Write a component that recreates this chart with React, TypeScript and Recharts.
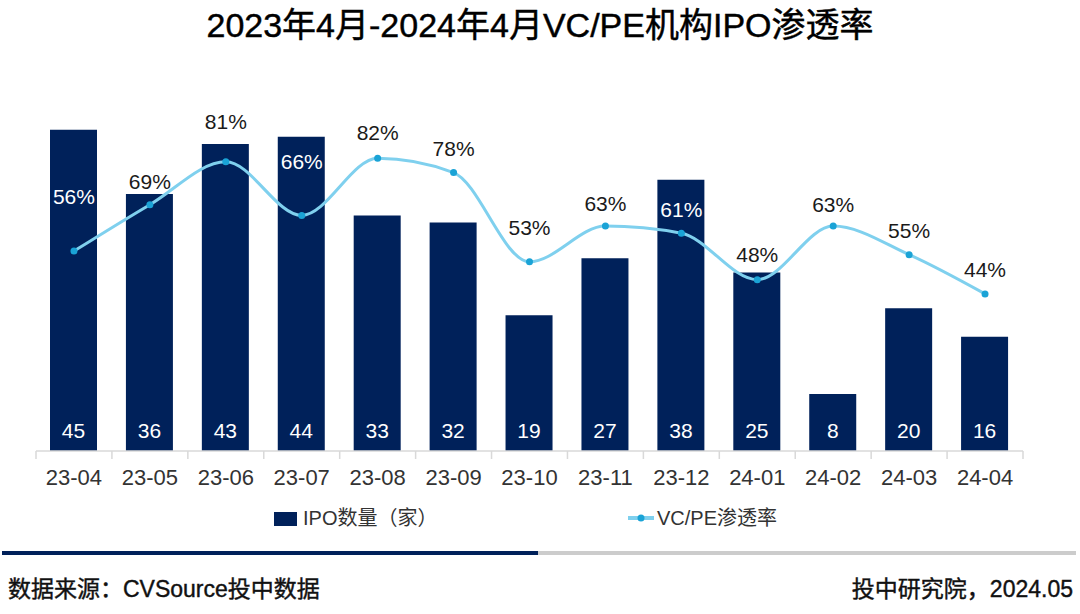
import React from 'react';
import { ComposedChart, Bar, Line, XAxis, YAxis, LabelList } from 'recharts';

const months = ['23-04', '23-05', '23-06', '23-07', '23-08', '23-09', '23-10', '23-11', '23-12', '24-01', '24-02', '24-03', '24-04'];
const ipoCounts = [45, 36, 43, 44, 33, 32, 19, 27, 38, 25, 8, 20, 16];
const vcpeRates = [56, 69, 81, 66, 82, 78, 53, 63, 61, 48, 63, 55, 44];

// how far each percentage label sits above its point (px)
const labelLift = [55, 23, 40, 54, 26, 24, 34, 23, 24, 25, 22, 24, 24];

const W = 1080;
const H = 614;
const PLOT_LEFT = 36;
const PLOT_RIGHT = 1023;
const PLOT_TOP = 94;
const PLOT_BOTTOM = 451;
const X_AXIS_H = 40;
const COUNT_MAX = 50;
const BAND = (PLOT_RIGHT - PLOT_LEFT) / months.length;

const NAVY = '#00215a';
const SKY = '#7fd0ee';
const DOT = '#1aa3d6';
const FONT = '"Liberation Sans", Arial, "Noto Sans CJK SC", sans-serif';

const chartData = months.map((m, i) => ({
  month: m,
  count: ipoCounts[i],
  rate: vcpeRates[i],
}));

const MonthTick = (props: any) => {
  const { x, y, payload, index } = props;
  const left = x - BAND / 2;
  const isLast = index === months.length - 1;
  return (
    <g>
      <line x1={left} y1={PLOT_BOTTOM} x2={left} y2={PLOT_BOTTOM + 8} stroke="#d9d9d9" strokeWidth={1.5} />
      {isLast && (
        <line x1={x + BAND / 2} y1={PLOT_BOTTOM} x2={x + BAND / 2} y2={PLOT_BOTTOM + 8} stroke="#d9d9d9" strokeWidth={1.5} />
      )}
      <text x={x} y={y + 26} textAnchor="middle" fontSize={22} fill="#333" fontFamily={FONT}>
        {payload.value}
      </text>
    </g>
  );
};

const RateLabel = (props: any) => {
  const { x, y, value, index } = props;
  const ly = y - labelLift[index];
  const barTop = PLOT_BOTTOM - (ipoCounts[index] / COUNT_MAX) * (PLOT_BOTTOM - PLOT_TOP);
  const inside = ly - 8 > barTop;
  return (
    <text
      x={x}
      y={ly}
      textAnchor="middle"
      dominantBaseline="central"
      fontSize={21}
      fill={inside ? '#ffffff' : '#1a1a1a'}
      fontFamily={FONT}
    >
      {`${value}%`}
    </text>
  );
};

const App: React.FC = () => {
  return (
    <div style={{ position: 'absolute', left: 0, top: 0, width: W, height: H, background: '#fff', fontFamily: FONT }}>
      <div
        style={{
          position: 'absolute',
          top: 5,
          left: 0,
          width: W,
          textAlign: 'center',
          fontSize: 34,
          lineHeight: '40px',
          color: '#000',
          WebkitTextStroke: '0.45px #000',
        }}
      >
        2023年4月-2024年4月VC/PE机构IPO渗透率
      </div>

      <ComposedChart
        width={W}
        height={H}
        data={chartData}
        margin={{ top: PLOT_TOP, left: PLOT_LEFT, right: W - PLOT_RIGHT, bottom: H - PLOT_BOTTOM - X_AXIS_H }}
        style={{ position: 'absolute', left: 0, top: 0 }}
      >
        <XAxis
          dataKey="month"
          height={X_AXIS_H}
          stroke="#d9d9d9"
          strokeWidth={1.5}
          tickLine={false}
          tick={<MonthTick />}
          interval={0}
        />
        <YAxis yAxisId="count" hide domain={[0, COUNT_MAX]} />
        <YAxis yAxisId="rate" hide orientation="right" domain={[0, 100]} />
        <Bar yAxisId="count" dataKey="count" fill={NAVY} barSize={47} isAnimationActive={false}>
          <LabelList
            dataKey="count"
            position="insideBottom"
            offset={13}
            fill="#ffffff"
            fontSize={21}
            fontFamily={FONT}
          />
        </Bar>
        <Line
          yAxisId="rate"
          type="monotone"
          dataKey="rate"
          stroke={SKY}
          strokeWidth={3}
          dot={{ r: 3.5, fill: DOT, stroke: DOT, strokeWidth: 0 }}
          isAnimationActive={false}
        >
          <LabelList dataKey="rate" content={<RateLabel />} />
        </Line>
      </ComposedChart>

      {/* legend */}
      <div style={{ position: 'absolute', left: 274, top: 512, width: 23, height: 14, background: NAVY }} />
      <div style={{ position: 'absolute', left: 303, top: 505, fontSize: 20, color: '#333', lineHeight: '26px' }}>
        IPO数量（家）
      </div>
      <svg style={{ position: 'absolute', left: 626, top: 510 }} width={30} height={16}>
        <line x1={2} y1={8} x2={28} y2={8} stroke={SKY} strokeWidth={4} />
        <circle cx={15} cy={8} r={3.5} fill={DOT} />
      </svg>
      <div style={{ position: 'absolute', left: 657, top: 505, fontSize: 20, color: '#333', lineHeight: '26px' }}>
        VC/PE渗透率
      </div>

      {/* separator */}
      <div style={{ position: 'absolute', left: 2, top: 551, width: 536, height: 4, background: NAVY }} />
      <div style={{ position: 'absolute', left: 538, top: 551, width: 538, height: 4, background: '#cccccc' }} />

      {/* footer */}
      <div style={{ position: 'absolute', left: 8, top: 574, fontSize: 23, color: '#111', lineHeight: '30px', WebkitTextStroke: '0.4px #111' }}>
        数据来源：CVSource投中数据
      </div>
      <div style={{ position: 'absolute', right: 7, top: 574, fontSize: 23, color: '#111', lineHeight: '30px', WebkitTextStroke: '0.4px #111' }}>
        投中研究院，2024.05
      </div>
    </div>
  );
};

export default App;
